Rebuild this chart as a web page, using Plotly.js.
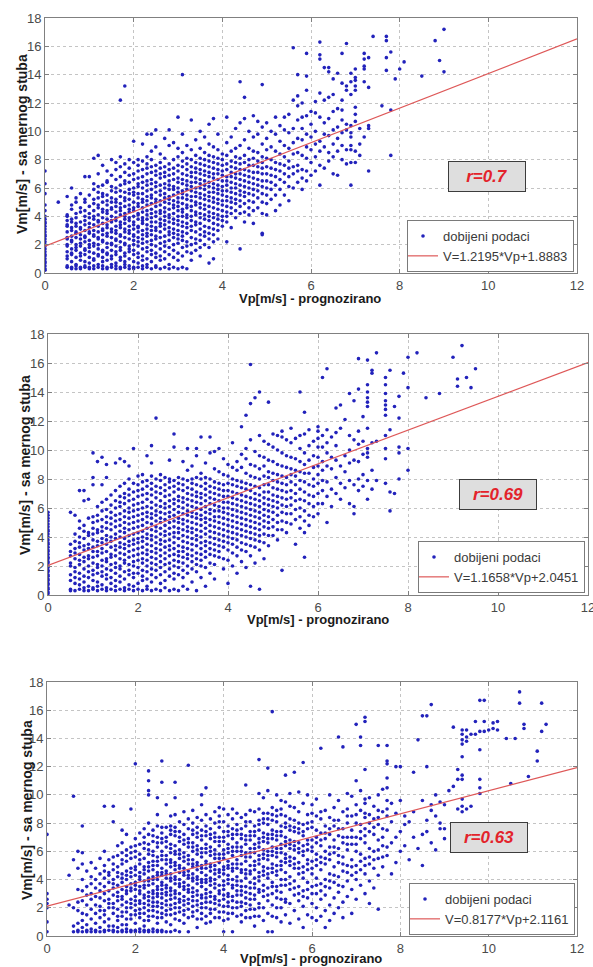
<!DOCTYPE html>
<html>
<head>
<meta charset="utf-8">
<script src="https://cdn.plot.ly/plotly-3.0.1.min.js"></script>
<style>html,body{margin:0;padding:0;background:#fff;}#chart{width:593px;height:967px;}</style>
</head>
<body>
<div id="chart"></div>
<script>
// ---------- DATA ----------
// Each entry: "Vp : Vm values seen in that vertical column of points"
var p1Columns = [
"0: 0.2 0.3 0.5 0.7 0.8 1.0 1.2 1.3 1.5 1.7 1.9 2.0 2.2 2.4 2.6 2.7 2.9 3.1 3.3 3.5 3.6 3.8 4.0 4.4 4.8 5.6 6.3 7.2",
"0.3: 5.0",
"0.5: 0.4 0.5 1.0 1.2 1.5 1.9 2.0 2.4 2.5 2.9 3.3 3.4 3.7 4.0 4.1 5.4",
"0.6: 0.3 0.4 0.8 1.3 1.4 1.7 2.2 2.3 2.6 3.0 3.2 3.6 3.8 4.5 4.8 6.0",
"0.7: 0.3 0.5 0.6 1.1 1.6 1.8 2.0 2.5 2.8 2.9 3.3 3.5 3.9 4.2 5.0 5.3",
"0.8: 0.3 0.4 0.9 1.2 1.4 1.9 2.1 2.4 2.7 3.1 3.2 3.6 4.3 4.6 5.6",
"0.9: 0.4 0.5 0.8 1.3 1.6 1.7 2.2 2.5 2.6 3.0 3.4 3.7 4.0 4.4 5.0 5.2 6.8",
"1.0: 0.3 0.4 0.7 1.1 1.5 1.8 2.0 2.3 2.8 2.9 3.2 3.5 3.9 4.2 4.7 5.5 6.8",
"1.1: 0.3 0.5 0.9 1.0 1.4 1.9 2.1 2.6 2.7 3.0 3.4 3.8 4.0 4.4 4.9 5.2 5.9 6.3 8.1",
"1.2: 0.4 0.6 1.2 1.3 1.7 2.0 2.4 2.5 2.9 3.3 3.6 3.7 4.1 4.6 4.8 5.3 5.7 6.1 7.0 8.3",
"1.3: 0.3 0.5 0.8 1.1 1.5 1.6 2.2 2.3 2.7 3.0 3.1 3.5 3.9 4.3 4.5 5.0 5.4 5.6 6.2 7.6",
"1.4: 0.3 0.4 0.9 1.3 1.4 1.8 2.1 2.6 2.8 3.2 3.4 3.8 4.2 4.4 4.8 5.1 5.5 6.4 6.5 7.2",
"1.5: 0.4 0.6 1.0 1.2 1.6 2.0 2.1 2.5 2.9 3.1 3.6 3.7 4.0 4.5 4.6 5.0 5.3 5.8 6.1 6.9 8.0",
"1.6: 0.3 0.5 0.7 1.3 1.5 1.9 2.3 2.4 2.8 3.0 3.3 3.7 3.9 4.3 4.7 5.0 5.2 5.7 6.0 6.6 7.3 7.8",
"1.7: 0.3 0.4 0.9 1.1 1.6 1.8 2.2 2.6 2.7 3.2 3.4 3.6 4.1 4.4 4.6 4.9 5.4 5.8 6.2 6.8 7.5 8.2 12.2",
"1.8: 0.4 0.6 0.8 1.2 1.4 2.0 2.1 2.5 2.9 3.1 3.5 3.8 4.0 4.2 4.7 5.1 5.3 5.7 6.3 6.5 7.1 7.7 13.2",
"1.9: 0.3 0.5 1.0 1.5 1.7 1.9 2.4 2.8 3.0 3.3 3.7 3.9 4.3 4.5 4.8 5.2 5.6 5.9 6.4 6.9 7.4 8.0",
"2.0: 0.3 0.4 0.8 1.3 1.6 2.0 2.3 2.6 2.7 3.1 3.4 3.6 4.0 4.4 4.6 5.0 5.5 5.7 6.0 6.6 7.0 7.8 9.3",
"2.1: 0.4 0.7 1.1 1.4 1.9 2.2 2.5 2.9 3.2 3.3 3.8 4.1 4.2 4.7 4.9 5.3 5.6 6.1 6.3 6.7 7.2 7.6 8.0",
"2.2: 0.3 0.5 0.9 1.2 1.7 2.1 2.4 2.7 3.0 3.5 3.7 3.9 4.3 4.6 5.0 5.2 5.6 6.0 6.4 6.8 7.3 7.9 9.1",
"2.3: 0.4 0.6 1.0 1.5 1.8 2.2 2.6 2.8 3.1 3.4 3.8 4.1 4.4 4.8 5.1 5.4 5.8 6.2 6.5 7.0 7.4 7.7 8.2 9.8",
"2.4: 0.3 0.8 1.3 1.6 2.0 2.3 2.7 3.0 3.3 3.6 3.9 4.2 4.5 4.9 5.3 5.5 5.9 6.3 6.6 7.1 7.5 8.0 8.6 9.8",
"2.5: 0.4 0.5 1.1 1.4 1.9 2.4 2.6 3.0 3.2 3.6 4.0 4.3 4.7 5.0 5.2 5.7 6.1 6.4 6.9 7.2 7.6 8.9 10.1",
"2.6: 0.3 0.9 1.2 1.7 2.1 2.5 2.9 3.3 3.5 3.8 4.2 4.4 4.8 5.1 5.5 5.8 6.2 6.7 7.0 7.4 7.8 8.4",
"2.7: 0.4 1.0 1.5 1.9 2.2 2.6 3.1 3.4 3.7 4.0 4.3 4.6 5.0 5.3 5.6 6.0 6.3 6.8 7.1 7.5 8.1 9.5",
"2.8: 0.3 0.6 1.3 1.8 2.3 2.7 2.9 3.2 3.6 3.9 4.1 4.5 4.9 5.2 5.4 5.9 6.2 6.5 6.9 7.3 7.7 9.0 10.1",
"2.9: 0.4 1.1 1.6 2.0 2.5 2.8 3.1 3.5 3.8 4.2 4.6 4.8 5.1 5.5 5.9 6.1 6.6 7.0 7.4 8.0 9.2",
"3.0: 0.3 0.9 1.4 2.1 2.4 2.7 3.0 3.4 3.7 4.0 4.4 4.7 5.0 5.3 5.7 6.0 6.4 6.7 7.2 7.6 8.2 8.8 11.0",
"3.1: 0.4 1.2 1.8 2.3 2.6 2.9 3.3 3.6 4.0 4.3 4.5 4.9 5.3 5.6 5.8 6.3 6.6 7.0 7.5 7.9 8.5 9.8 14.0",
"3.2: 0.3 1.5 1.9 2.2 2.8 3.2 3.5 3.9 4.1 4.6 4.8 5.2 5.5 5.9 6.2 6.5 6.9 7.3 7.7 8.1 9.0",
"3.3: 0.9 1.4 2.0 2.5 3.0 3.3 3.7 4.0 4.4 4.7 5.1 5.4 5.8 6.1 6.4 6.8 7.1 7.5 8.0 8.7 10.8",
"3.4: 1.6 2.1 2.4 2.9 3.4 3.6 4.1 4.3 4.8 5.0 5.4 5.7 6.0 6.4 6.7 7.1 7.4 7.8 8.3 9.4",
"3.5: 1.2 1.8 2.3 2.7 3.1 3.5 3.9 4.2 4.6 4.9 5.3 5.6 6.0 6.3 6.6 7.0 7.3 7.7 8.1 8.8 10.0",
"3.6: 2.0 2.6 2.9 3.3 3.8 4.1 4.5 4.8 5.2 5.5 5.9 6.2 6.5 6.9 7.2 7.6 8.0 8.5 9.6",
"3.7: 0.7 1.8 2.4 2.8 3.2 3.7 4.0 4.3 4.7 5.1 5.4 5.7 6.1 6.4 6.8 7.1 7.5 7.9 8.3 9.1 10.5",
"3.8: 1.0 2.2 2.7 3.1 3.5 3.9 4.2 4.6 5.0 5.3 5.7 6.0 6.3 6.7 7.0 7.4 7.8 8.2 8.9 10.9",
"3.9: 2.4 3.0 3.4 3.8 4.1 4.5 4.9 5.2 5.6 5.9 6.2 6.6 7.0 7.3 7.7 8.1 8.7 9.8",
"4.0: 3.3 3.7 4.0 4.4 4.8 5.1 5.5 5.8 6.1 6.5 6.9 7.2 7.6 8.0 8.4",
"4.1: 2.2 3.6 4.0 4.3 4.7 5.1 5.4 5.8 6.2 6.5 6.8 7.3 7.7 8.3 9.2 11.0",
"4.2: 3.2 4.2 4.6 5.0 5.3 5.7 6.0 6.4 6.8 7.1 7.5 7.9 8.6 9.6",
"4.3: 3.9 4.4 4.9 5.2 5.6 6.0 6.3 6.7 7.0 7.4 7.8 8.2 8.8 10.2",
"4.4: 1.7 4.2 4.7 5.1 5.5 5.8 6.2 6.6 7.0 7.3 7.7 8.1 9.0 10.6 13.5",
"4.5: 3.6 4.3 4.9 5.4 5.7 6.1 6.5 6.9 7.3 7.8 8.3 9.4 10.9 12.4",
"4.6: 4.1 4.6 5.1 5.6 6.0 6.4 6.8 7.2 7.6 8.0 8.8 10.0",
"4.7: 3.5 4.4 5.0 5.5 5.9 6.3 6.7 7.1 7.6 8.1 8.6 9.6 11.1",
"4.8: 4.6 5.3 5.8 6.2 6.6 7.1 7.5 7.9 8.5 9.8 10.7",
"4.9: 2.7 2.8 4.2 5.0 5.6 6.1 6.5 7.0 7.4 7.8 8.2 9.1 10.3 13.3",
"5.0: 4.1 4.9 5.5 6.0 6.5 7.0 7.5 8.1 8.7 9.5 10.6",
"5.1: 5.2 5.9 6.4 6.9 7.4 8.0 8.9 10.0",
"5.2: 4.4 5.5 6.2 6.8 7.3 7.8 8.6 9.8 11.0",
"5.3: 4.8 5.9 6.6 7.2 7.7 8.4 9.3 10.4",
"5.4: 5.5 6.4 7.0 7.6 8.2 9.0 10.1 11.0",
"5.5: 5.1 6.1 6.8 7.4 7.9 8.8 9.9 11.2",
"5.6: 6.0 7.0 7.5 8.4 9.2 10.2 12.2 15.9",
"5.7: 6.4 7.2 7.6 8.5 9.5 10.8 11.8 12.5 14.0",
"5.8: 5.9 6.7 7.3 8.3 9.4 10.2 11.0 12.0",
"5.9: 6.5 7.2 8.1 8.9 9.8 11.1 12.9 13.9 15.5",
"6.0: 6.9 7.8 8.7 9.6 10.5 11.4",
"6.1: 7.2 8.2 9.1 10.0 11.3 12.1",
"6.2: 6.2 7.6 8.6 9.3 11.0 12.7 15.1 15.4 16.3",
"6.3: 7.4 8.9 9.8 10.6 12.2 14.5",
"6.4: 7.9 8.5 9.7 10.9 12.4 14.2 14.5",
"6.5: 7.0 8.2 9.1 10.1 11.4 12.6 13.7",
"6.6: 6.9 8.6 9.5 10.3 11.6 14.1",
"6.7: 8.0 9.0 9.9 10.8 11.5 12.2 13.4 15.5",
"6.8: 7.7 8.7 10.1 10.5 12.9 13.2 16.2",
"6.9: 6.2 7.8 8.7 9.0 9.6 9.9 10.4 12.6 13.5 14.1",
"7.0: 7.8 8.6 10.7 11.2 11.7 12.9 13.2 13.6 13.8 14.4",
"7.1: 8.3 9.1 10.2",
"7.2: 9.6 13.5 14.4 14.6 15.1 15.5",
"7.3: 7.2 10.2 10.4 13.1 15.2",
"7.4: 16.7",
"7.6: 11.8",
"7.7: 14.3 15.2 16.4 16.7",
"7.8: 8.3 11.5 15.6",
"7.9: 13.7",
"8.0: 14.4",
"8.1: 14.9",
"8.5: 13.9",
"8.8: 16.4",
"8.9: 15.0",
"9.0: 14.2 17.2"
];

var p2Columns = [
"0: 0.1 0.2 0.4 0.5 0.7 0.8 1.0 1.1 1.3 1.4 1.6 1.7 1.9 2.0 2.2 2.3 2.5 2.6 2.8 3.0 3.1 3.3 3.5 3.6 3.8 4.0 4.2 4.4 4.5 4.7 4.9 5.1 5.3 5.5 5.7",
"0.5: 0.3 0.4 1.0 1.4 2.0 2.2 2.7 3.0 3.5 5.7",
"0.6: 0.3 0.8 1.2 1.6 1.9 2.5 2.9 3.2 3.7 4.2 5.5",
"0.7: 0.4 0.7 1.1 1.5 2.1 2.4 2.8 3.3 3.6 4.0 4.6 5.1 7.2",
"0.8: 0.3 0.5 0.9 1.3 1.8 2.3 2.6 3.1 3.4 3.9 4.4 4.8 6.5 7.2",
"0.9: 0.3 0.6 1.2 1.6 2.0 2.5 2.7 3.2 3.5 4.1 4.3 5.3 6.6",
"1.0: 0.4 0.5 1.0 1.4 1.7 2.2 2.6 3.0 3.3 3.8 4.2 4.6 5.0 5.4 7.6 8.1 9.8",
"1.1: 0.3 0.6 0.9 1.5 1.9 2.1 2.7 3.0 3.4 3.7 4.3 4.5 5.1 5.5 6.1 9.2",
"1.2: 0.4 0.7 1.3 1.6 2.0 2.4 2.9 3.2 3.6 3.9 4.4 4.7 5.2 5.8 6.4 7.6 9.5",
"1.3: 0.3 0.5 1.1 1.4 1.8 2.3 2.5 3.0 3.5 3.8 4.1 4.6 5.0 5.4 5.9 6.6 8.1 9.0",
"1.4: 0.4 0.8 1.2 1.7 2.1 2.6 2.8 3.3 3.7 4.0 4.5 4.9 5.3 5.7 6.2 6.9",
"1.5: 0.3 0.6 1.0 1.5 1.9 2.2 2.7 3.1 3.4 3.9 4.2 4.7 5.1 5.5 6.0 6.5 7.2 9.1",
"1.6: 0.4 0.9 1.3 1.8 2.0 2.5 2.9 3.3 3.6 4.0 4.4 4.8 5.2 5.6 6.1 6.4 6.8 7.5 9.4",
"1.7: 0.3 0.5 1.1 1.6 2.2 2.4 2.8 3.2 3.5 3.9 4.3 4.6 5.0 5.4 5.8 6.3 6.7 7.0 7.7 9.2",
"1.8: 0.4 0.7 1.4 1.7 2.1 2.6 3.0 3.4 3.7 4.1 4.5 4.9 5.3 5.7 6.0 6.5 6.9 7.3 8.0 8.9",
"1.9: 0.3 0.6 1.2 1.5 2.0 2.3 2.7 3.1 3.5 3.8 4.2 4.6 5.0 5.4 5.8 6.2 6.6 7.1 7.7 10.1",
"2.0: 0.4 0.8 1.5 1.9 2.4 2.8 3.2 3.6 3.9 4.3 4.7 5.1 5.5 5.9 6.3 6.8 7.2 7.6 8.2",
"2.1: 0.3 1.0 1.3 1.7 2.2 2.5 2.9 3.3 3.7 4.0 4.4 4.8 5.2 5.6 6.0 6.4 6.9 7.3 7.8 8.3",
"2.2: 0.4 0.6 1.1 1.6 2.0 2.4 2.8 3.1 3.5 3.9 4.2 4.6 5.0 5.4 5.7 6.1 6.6 7.0 7.5 7.9 9.6",
"2.3: 0.3 0.9 1.4 1.8 2.2 2.6 3.0 3.4 3.8 4.1 4.5 4.9 5.3 5.6 6.0 6.4 6.9 7.3 7.7 8.2 9.1 10.3",
"2.4: 0.4 1.2 1.7 2.1 2.5 2.9 3.2 3.6 4.0 4.4 4.7 5.1 5.5 5.8 6.2 6.7 7.1 7.5 8.0 12.2",
"2.5: 0.3 0.8 1.4 1.9 2.3 2.7 3.1 3.5 3.8 4.2 4.6 5.0 5.3 5.7 6.1 6.5 7.0 7.4 7.9 8.3",
"2.6: 0.5 1.0 1.6 2.1 2.5 2.9 3.3 3.7 4.1 4.4 4.8 5.2 5.6 6.0 6.3 6.8 7.2 7.6 8.1",
"2.7: 0.3 1.3 1.8 2.2 2.7 3.1 3.4 3.8 4.2 4.6 5.0 5.4 5.7 6.1 6.5 6.9 7.4 7.8 8.0 9.3",
"2.8: 0.4 1.1 1.5 2.0 2.4 2.8 3.2 3.6 4.0 4.3 4.7 5.1 5.5 5.9 6.3 6.6 7.1 7.5 7.9 10.2 11.1",
"2.9: 0.3 1.4 1.9 2.3 2.7 3.0 3.4 3.9 4.3 4.6 5.0 5.3 5.7 6.1 6.5 6.8 7.3 7.7 8.1",
"3.0: 0.6 1.2 1.7 2.2 2.6 3.0 3.3 3.7 4.1 4.5 4.9 5.2 5.6 6.0 6.4 6.7 7.2 7.6 8.0 9.2",
"3.1: 0.4 1.5 2.0 2.5 2.8 3.2 3.6 4.0 4.4 4.7 5.1 5.5 5.8 6.2 6.6 7.0 7.4 7.9 8.6 10.1",
"3.2: 0.9 1.8 2.3 2.7 3.1 3.5 3.9 4.3 4.6 5.0 5.4 5.7 6.1 6.5 6.9 7.3 7.7 8.0 8.9",
"3.3: 0.3 1.6 2.1 2.5 2.9 3.4 3.8 4.1 4.5 4.9 5.3 5.6 6.0 6.4 6.8 7.1 7.6 8.1 9.6 10.1",
"3.4: 1.2 2.0 2.4 2.8 3.2 3.6 4.0 4.4 4.8 5.2 5.5 5.9 6.3 6.7 7.0 7.5 8.0 8.4 10.9",
"3.5: 0.6 1.9 2.6 3.0 3.4 3.7 4.2 4.6 5.0 5.3 5.7 6.1 6.5 6.9 7.3 7.7 8.1 9.1",
"3.6: 1.5 2.2 2.8 3.2 3.6 4.0 4.4 4.8 5.2 5.6 5.9 6.3 6.7 7.1 7.5 8.0 9.8 10.9",
"3.7: 1.1 2.1 2.7 3.1 3.5 3.9 4.3 4.7 5.1 5.4 5.8 6.2 6.6 7.0 7.4 7.8 8.7 9.9",
"3.8: 2.6 3.0 3.4 3.8 4.2 4.6 5.0 5.4 5.8 6.1 6.5 6.9 7.3 7.7 8.5 10.1",
"3.9: 1.8 2.5 3.3 3.7 4.1 4.5 4.9 5.3 5.7 6.0 6.4 6.8 7.2 7.6 8.3 9.4",
"4.0: 0.8 2.4 3.1 3.6 4.0 4.4 4.8 5.2 5.6 6.0 6.4 6.8 7.2 7.7 8.2 9.0",
"4.1: 2.0 2.9 3.5 3.9 4.3 4.7 5.1 5.5 5.9 6.3 6.7 7.1 7.6 8.0 8.8 10.5",
"4.2: 1.5 2.7 3.3 3.8 4.2 4.6 5.0 5.4 5.8 6.2 6.6 7.0 7.5 7.9 8.6 9.2",
"4.3: 2.3 3.1 3.6 4.1 4.5 4.9 5.3 5.7 6.1 6.5 6.9 7.4 7.8 8.8 9.7 11.6",
"4.4: 1.9 3.0 3.5 4.0 4.4 4.8 5.2 5.6 6.0 6.4 6.8 7.3 7.7 8.4 9.4 10.1 12.4",
"4.5: 0.6 2.7 3.4 3.9 4.3 4.7 5.1 5.5 5.9 6.3 6.7 7.2 7.6 8.2 9.0 10.7 13.2 15.9",
"4.6: 2.2 3.3 3.8 4.2 4.6 5.0 5.4 5.8 6.2 6.6 7.0 7.5 8.1 8.9 9.9 13.6",
"4.7: 0.4 3.1 3.7 4.1 4.5 4.9 5.3 5.7 6.1 6.5 6.9 7.4 8.0 8.7 9.6 11.0 14.0",
"4.8: 2.5 3.6 4.2 4.7 5.1 5.5 5.9 6.3 6.7 7.1 7.6 8.2 8.9 9.5 10.6",
"4.9: 3.4 4.1 4.6 5.0 5.4 5.8 6.2 6.6 7.1 7.6 8.1 8.5 9.3 10.4 13.3",
"5.0: 4.1 4.7 5.2 5.7 6.1 6.5 6.9 7.4 7.9 8.4 9.2 10.2 11.1",
"5.1: 3.8 4.5 5.0 5.5 6.0 6.4 6.8 7.3 7.8 8.3 9.0 10.0 11.0",
"5.2: 1.7 4.5 5.1 5.7 6.2 6.7 7.2 7.7 8.2 8.9 9.8 10.9 11.3",
"5.3: 4.3 5.0 5.6 6.1 6.6 7.1 7.6 8.1 8.8 9.6 10.7",
"5.4: 4.9 5.6 6.2 6.7 7.2 7.8 8.3 8.7 9.5 10.5 11.5",
"5.5: 3.5 5.2 5.9 6.5 7.0 7.6 8.2 8.6 9.4 10.8",
"5.6: 4.6 5.4 6.0 6.6 7.3 7.9 8.5 9.2 10.1 11.0 14.0",
"5.7: 2.6 4.3 5.1 5.8 6.5 7.1 7.8 8.4 9.0 9.8 11.1 12.6",
"5.8: 4.8 5.5 6.3 6.9 7.6 8.4 9.3 10.3 11.4",
"5.9: 5.4 6.1 6.8 7.5 8.0 8.8 9.6 10.6",
"6.0: 5.6 6.3 7.0 7.7 8.3 8.9 9.5 10.2 10.8 11.3 11.6",
"6.1: 6.3 7.2 7.9 8.6 9.2 10.2 11.0 15.0",
"6.2: 5.0 6.8 7.8 8.9 9.8 10.5 11.4 15.6",
"6.3: 6.1 7.3 8.7 9.5 10.9",
"6.4: 7.0 8.1 9.3 10.3 11.2 12.9",
"6.5: 6.6 7.7 8.9 11.5 13.1",
"6.6: 7.4 8.5 9.6 12.1",
"6.7: 6.3 7.9 9.1 10.0 11.0 13.9",
"6.8: 5.6 6.1 7.6 9.3 10.7 13.4",
"6.9: 7.2 8.0 9.2 10.4 11.3 14.2 16.3",
"7.0: 7.5 8.3 9.7 10.6 12.3",
"7.1: 6.6 7.9 9.5 9.8 10.1 11.5 13.0 13.3 13.6 14.0 14.5 16.2",
"7.2: 7.3 8.6 10.5 15.3 15.5",
"7.3: 7.9 10.6 16.7",
"7.5: 7.7 9.4 10.1 11.0 12.4 12.8 13.1 13.4 13.9 14.5 15.0",
"7.6: 5.8 7.1 11.4 15.5",
"7.7: 7.0 13.0",
"7.8: 8.0 9.8 10.2 12.2 13.7",
"7.9: 15.3",
"8.0: 8.6 10.1 14.3 16.4",
"8.2: 16.7",
"8.4: 13.6",
"8.7: 13.9",
"9.0: 16.4",
"9.1: 14.4 14.9",
"9.2: 17.2",
"9.3: 15.0",
"9.4: 14.3",
"9.5: 15.6"
];

var p3Columns = [
"0: 0.3 1.0 2.0 2.3 2.6 3.0 7.2",
"0.5: 2.2 4.3",
"0.6: 0.3 0.7 2.0 5.4 9.9",
"0.7: 0.3 0.4 0.9 1.8 2.4 3.3 4.8 6.0",
"0.8: 0.3 0.6 1.1 1.6 2.5 3.2 4.0 5.1 5.9 7.8",
"0.9: 0.3 0.4 0.8 1.5 2.2 2.9 3.5 4.6",
"1.0: 0.3 0.5 1.2 1.9 2.6 3.0 3.7 4.2 5.2",
"1.1: 0.3 0.4 0.9 1.6 2.2 2.8 3.4 4.0 4.8",
"1.2: 0.3 0.6 1.3 1.8 2.1 2.7 3.2 3.7 4.4 5.5",
"1.3: 0.3 0.4 1.0 1.5 1.8 2.5 3.0 3.5 4.1 4.6 5.0 6.0 9.2",
"1.4: 0.4 0.7 1.2 2.0 2.3 2.6 3.2 3.8 4.3 4.5 5.4",
"1.5: 0.3 0.4 0.7 1.6 2.0 2.3 2.9 3.4 3.7 4.0 4.7 5.1 5.6 8.1 9.2",
"1.6: 0.3 0.6 1.1 1.4 1.9 2.5 2.8 3.1 3.6 4.2 4.5 4.9 5.7 6.4",
"1.7: 0.3 0.4 0.8 1.4 1.7 2.2 2.6 2.8 3.3 3.8 4.1 4.4 5.1 5.4 5.9 6.6 7.5",
"1.8: 0.3 0.5 0.8 1.2 1.7 2.0 2.4 3.0 3.2 3.5 4.0 4.3 4.6 5.3 5.7 6.1 7.2",
"1.9: 0.3 0.4 1.2 1.5 2.0 2.3 2.6 3.2 3.4 3.7 4.2 4.5 4.8 5.5 5.9 6.3 9.0",
"2.0: 0.3 0.4 0.9 1.5 1.8 2.2 2.5 2.8 3.3 3.6 3.8 4.3 4.7 4.9 5.6 6.0 6.4 6.9 12.2",
"2.1: 0.3 0.5 1.3 1.6 1.9 2.3 2.5 3.0 3.2 3.5 4.0 4.2 4.5 5.1 5.4 5.8 6.5 7.3",
"2.2: 0.3 0.4 0.7 1.1 1.6 2.0 2.3 2.7 2.9 3.4 3.6 3.9 4.4 4.7 4.9 5.5 6.2 6.6 7.0 7.6",
"2.3: 0.3 0.4 1.1 1.4 1.8 2.2 2.5 2.8 3.1 3.6 3.9 4.1 4.6 4.9 5.2 5.8 6.1 6.5 7.2 8.0 10.0 10.3 11.0 11.7",
"2.4: 0.3 0.5 1.4 1.8 2.1 2.4 2.7 3.0 3.2 3.7 4.0 4.2 4.7 5.0 5.3 5.7 6.0 6.7 7.1 7.5",
"2.5: 0.3 0.4 0.9 1.3 1.7 2.1 2.4 2.8 3.0 3.3 3.5 4.0 4.3 4.5 5.0 5.3 5.6 6.3 6.6 7.0 7.8 8.6 9.8",
"2.6: 0.3 0.4 1.3 1.6 2.0 2.3 2.7 3.0 3.3 3.6 3.8 4.3 4.5 4.8 5.4 5.7 6.0 6.6 6.9 7.3 7.7 10.9 12.4",
"2.7: 0.3 1.0 1.5 1.8 2.2 2.5 2.9 3.1 3.4 3.6 4.1 4.4 4.6 5.1 5.4 5.7 6.3 6.7 7.0 7.7 9.3",
"2.8: 0.3 0.8 1.5 1.9 2.2 2.6 2.9 3.2 3.4 3.9 4.1 4.4 4.9 5.2 5.4 5.9 6.2 6.5 7.2 7.5 7.8 8.5",
"2.9: 0.4 1.2 1.6 2.0 2.3 2.7 3.0 3.2 3.7 4.0 4.2 4.7 5.0 5.2 5.8 6.0 6.4 7.1 7.4 7.7 8.6 9.8 10.9",
"3.0: 0.3 1.1 1.7 2.0 2.4 2.6 3.0 3.5 3.7 4.0 4.5 4.8 5.0 5.5 5.8 6.1 6.7 7.0 7.4 8.1",
"3.1: 0.9 1.5 1.8 2.2 2.5 2.8 3.3 3.5 3.8 4.3 4.5 4.8 5.3 5.6 5.9 6.5 6.8 7.2 7.9 8.8",
"3.2: 0.3 1.3 1.9 2.3 2.6 3.1 3.3 3.6 4.1 4.3 4.6 5.1 5.4 5.7 6.3 6.6 6.9 7.6 8.3 12.1",
"3.3: 1.4 1.7 2.1 2.5 2.8 3.1 3.4 3.9 4.1 4.4 4.9 5.1 5.4 6.0 6.3 6.6 7.2 7.5 8.0 8.9",
"3.4: 0.6 1.2 1.8 2.2 2.5 2.9 3.2 3.7 4.0 4.2 4.7 5.0 5.2 5.8 6.1 6.4 7.0 7.3 7.7 8.4",
"3.5: 1.2 1.6 2.0 2.3 2.7 2.9 3.5 3.8 4.0 4.5 4.8 5.0 5.6 5.9 6.2 6.8 7.1 7.5 8.2 9.3 10.0",
"3.6: 0.9 1.4 2.0 2.4 2.7 3.0 3.3 3.8 4.0 4.3 4.8 5.1 5.3 5.9 6.2 6.5 7.1 7.4 7.8 8.6 10.5",
"3.7: 1.0 1.6 1.9 2.4 2.8 3.1 3.6 3.9 4.1 4.6 4.9 5.1 5.7 6.0 6.3 6.9 7.2 7.6 8.3",
"3.8: 1.3 1.9 2.3 2.6 2.8 3.4 3.7 4.0 4.4 4.7 5.0 5.5 5.8 6.1 6.7 7.0 7.3 8.0 8.8",
"3.9: 1.3 1.7 2.2 2.5 3.0 3.2 3.6 4.2 4.5 4.7 5.2 5.5 5.8 6.4 6.7 7.0 7.7 8.1 8.5 9.1",
"4.0: 0.3 1.1 1.7 2.1 2.6 2.9 3.3 3.6 3.9 4.4 4.7 4.9 5.5 5.8 6.1 6.7 7.0 7.4 8.1 9.0",
"4.1: 1.2 1.6 2.1 2.4 2.8 3.0 3.7 4.0 4.3 4.8 5.0 5.3 5.9 6.2 6.5 7.1 7.4 7.8 8.6",
"4.2: 0.3 1.6 2.0 2.5 2.8 3.4 3.6 4.0 4.6 4.8 5.1 5.7 6.0 6.3 6.9 7.2 7.6 8.3 9.0",
"4.3: 1.4 2.0 2.4 2.9 3.2 3.6 3.9 4.2 4.8 5.1 5.4 6.0 6.3 6.6 7.2 7.5 7.9 8.7",
"4.4: 1.0 1.5 2.1 2.4 2.9 3.2 3.5 3.9 4.5 4.7 5.1 5.7 6.0 6.3 6.9 7.2 7.6 8.4",
"4.5: 1.3 1.8 2.3 2.7 3.1 3.5 4.1 4.4 4.7 5.3 5.6 5.9 6.5 6.8 7.1 7.8 8.1 8.6 10.7",
"4.6: 1.3 1.9 2.2 2.6 3.0 3.4 3.8 4.4 4.6 5.0 5.6 5.9 6.2 6.8 7.1 7.4 8.1 8.9",
"4.7: 0.7 1.4 1.9 2.6 2.9 3.4 3.7 4.1 4.7 5.0 5.3 5.9 6.2 6.5 7.1 7.4 7.8 8.8",
"4.8: 1.4 2.0 2.3 3.1 3.3 3.9 4.2 4.5 5.1 5.4 5.7 6.3 6.6 6.9 7.5 7.9 8.2 9.0 10.1 12.5",
"4.9: 1.1 2.0 2.8 3.2 3.6 4.3 4.6 4.9 5.5 5.8 6.1 6.7 7.0 7.3 8.0 8.3 8.7 9.8",
"5.0: 0.3 1.6 2.5 2.9 3.4 4.1 4.4 4.8 5.4 5.7 6.0 6.6 6.9 7.2 7.9 8.3 8.7 10.3 11.9",
"5.1: 0.3 1.4 2.2 3.0 3.5 3.8 4.5 4.8 5.1 5.7 6.0 6.3 6.9 7.2 7.5 8.2 8.6 9.1 15.9",
"5.2: 1.3 2.0 2.7 3.2 3.5 4.3 4.6 5.0 5.6 5.9 6.2 6.8 7.1 7.4 8.1 8.5 8.9 10.0",
"5.3: 1.0 2.0 2.6 3.1 3.6 4.0 4.7 5.0 5.3 5.9 6.2 6.5 7.1 7.4 7.8 8.6 9.0 9.6",
"5.4: 1.5 2.4 2.6 3.6 4.0 4.5 5.2 5.5 5.8 6.4 6.7 7.0 7.7 8.0 8.5 9.5 11.4",
"5.5: 0.9 2.3 3.3 3.7 4.2 5.0 5.3 5.6 6.2 6.5 6.8 7.5 7.8 8.3 9.2 10.1",
"5.6: 1.8 2.9 3.4 3.9 4.8 5.1 5.5 6.1 6.4 6.7 7.4 7.7 8.2 9.1 11.6",
"5.7: 1.2 2.5 3.0 3.5 4.4 4.8 5.2 5.9 6.2 6.6 7.3 7.6 8.0 8.8 10.2",
"5.8: 0.6 2.1 2.8 3.2 4.1 4.5 4.9 5.7 6.0 6.4 7.1 7.4 7.9 9.4 12.3",
"5.9: 1.5 2.7 3.3 3.8 4.7 5.1 5.4 6.1 6.5 6.8 7.6 8.0 8.6 10.0",
"6.0: 1.3 2.3 3.0 3.5 4.4 4.8 5.3 6.0 6.3 6.8 7.7 8.1 8.7 9.3",
"6.1: 1.1 2.0 3.0 3.6 4.1 5.0 5.4 5.8 6.6 7.0 7.5 8.5 9.7",
"6.2: 1.4 2.6 3.2 3.7 4.7 5.2 5.6 6.4 6.8 7.3 8.3 8.8 13.3",
"6.3: 0.6 1.8 2.9 3.5 4.0 5.1 5.5 6.0 6.9 7.3 7.8 8.9",
"6.4: 1.1 2.2 3.4 3.9 4.4 5.4 5.8 6.3 7.2 7.6 8.4 10.0",
"6.5: 1.6 2.7 3.8 4.3 4.9 5.9 6.3 6.8 7.8 8.2 9.1",
"6.6: 2.0 3.1 3.6 4.2 5.2 5.7 6.2 7.1 7.6 8.2 9.6 14.1",
"6.7: 1.3 2.4 3.5 4.6 5.1 5.6 6.6 7.0 7.6 8.8 13.4",
"6.8: 2.8 3.9 4.5 5.0 6.1 6.5 7.0 8.0 8.5 9.0 10.1",
"6.9: 1.6 3.3 4.3 4.9 5.4 6.5 7.0 7.5 8.5 9.9",
"7.0: 2.6 4.0 4.5 5.0 6.0 6.5 7.0 8.0 8.6 9.3 11.0 15.0",
"7.1: 3.6 4.7 5.3 5.8 6.9 7.4 7.9 8.9 10.3 13.5 14.1",
"7.2: 3.0 4.4 5.0 5.5 6.6 7.1 7.6 8.4 8.7 9.4 9.7 11.8 15.2 15.5",
"7.3: 2.3 3.9 5.1 5.6 6.2 7.4 8.0 8.6 9.8",
"7.4: 3.4 4.8 5.4 6.0 7.2 7.7 8.3 9.2",
"7.5: 1.9 4.3 5.5 6.1 6.8 7.9 8.4 8.9 10.0 13.5",
"7.6: 4.9 5.6 6.4 7.0 7.6 8.8 10.4",
"7.7: 5.7 6.3 7.5 8.5 9.0 9.6 10.5 11.2 12.2 12.4 13.5",
"7.8: 4.4 6.6 8.1 9.4",
"7.9: 5.2 7.0 8.7 12.0",
"8.0: 6.0 7.4 9.6 12.0",
"8.1: 6.4 7.9 8.5",
"8.2: 5.4 8.1",
"8.3: 7.0 8.8 11.6",
"8.4: 6.2 13.9",
"8.5: 5.0 7.2 9.6 15.6",
"8.6: 7.4 8.2 12.0 15.6",
"8.7: 6.6 8.9 9.3 16.4",
"8.8: 6.1 8.5 10.0",
"8.9: 7.6 8.0 9.5",
"9.0: 3.4 6.9 7.6 9.3",
"9.1: 10.3",
"9.2: 10.6 14.8",
"9.3: 9.0 11.1 11.8",
"9.4: 8.8 9.2 9.7 11.1 11.4 12.7 13.6 13.9 14.3 14.6",
"9.5: 9.0 13.8 14.1 14.6",
"9.6: 9.2 14.3",
"9.7: 14.3 15.2",
"9.8: 10.1 10.5 11.1 13.2 14.5 16.7",
"9.9: 14.5 15.2 16.7",
"10.0: 14.6",
"10.1: 14.7 15.1",
"10.2: 14.6 15.2",
"10.4: 14.0",
"10.5: 10.8",
"10.6: 14.0",
"10.7: 16.5 17.3",
"10.8: 14.7 15.0",
"10.9: 11.3",
"11.1: 12.4 13.1",
"11.2: 14.5 16.5",
"11.3: 15.0"
];

// Regression lines (end points at Vp = 0 and Vp = 12) and text labels
var lineX = [0, 12];
var p1LineY = [1.8883, 16.5223];
var p2LineY = [2.0451, 16.0347];
var p3LineY = [2.1161, 11.9285];
var fitLabels = ["V=1.2195*Vp+1.8883", "V=1.1658*Vp+2.0451", "V=0.8177*Vp+2.1161"];
var rLabels = ["r=0.7", "r=0.69", "r=0.63"];
var pointsLabel = "dobijeni podaci";
var xTitle = "Vp[m/s] - prognozirano";
var yTitle = "Vm[m/s] - sa mernog stuba";

// ---------- BUILD ----------
function flatten(cols) {
  var xs = [], ys = [];
  cols.forEach(function (c) {
    var parts = c.split(":");
    var x = parseFloat(parts[0]);
    parts[1].trim().split(/\s+/).forEach(function (v) { xs.push(x); ys.push(parseFloat(v)); });
  });
  return {x: xs, y: ys};
}
var W = 593, H = 967;
var FONT = 'Liberation Sans, Arial, sans-serif';
var panels = [
  {d: flatten(p1Columns), line: p1LineY, px: [45, 577], py: [18, 273],
   leg: [574, 272], rbox: [487, 176], yt: [22, 144], xt: [310, 299]},
  {d: flatten(p2Columns), line: p2LineY, px: [48, 588], py: [334, 595],
   leg: [585, 593], rbox: [498, 494], yt: [25, 465], xt: [318, 619]},
  {d: flatten(p3Columns), line: p3LineY, px: [47, 577], py: [682, 936],
   leg: [575, 935], rbox: [489, 837], yt: [27, 810], xt: [311, 958]}
];

var traces = [], annotations = [];
var layout = {
  width: W, height: H, margin: {l: 0, r: 0, t: 0, b: 0},
  paper_bgcolor: '#ffffff', plot_bgcolor: '#ffffff',
  font: {family: FONT, color: '#404040'},
  showlegend: true
};
var tickFont = {family: FONT, size: 13, color: '#4a4a4a'};

panels.forEach(function (p, i) {
  var n = i + 1, sfx = n === 1 ? '' : String(n);
  var legName = n === 1 ? 'legend' : 'legend' + n;
  traces.push({
    type: 'scatter', mode: 'markers', x: p.d.x, y: p.d.y,
    xaxis: 'x' + sfx, yaxis: 'y' + sfx, name: pointsLabel, legend: legName,
    marker: {size: 3.6, color: '#2222bb'}, hoverinfo: 'skip'
  });
  traces.push({
    type: 'scatter', mode: 'lines', x: lineX, y: p.line,
    xaxis: 'x' + sfx, yaxis: 'y' + sfx, name: fitLabels[i], legend: legName,
    line: {color: 'rgb(222,88,88)', width: 1.2}, hoverinfo: 'skip'
  });
  var axCommon = {
    showline: true, linecolor: '#808080', linewidth: 1, mirror: 'ticks',
    ticks: 'inside', ticklen: 4, tickcolor: '#808080',
    showgrid: true, gridcolor: '#c4c4c4', griddash: 'dot', gridwidth: 1,
    zeroline: false, tickfont: tickFont, fixedrange: true
  };
  layout['xaxis' + sfx] = Object.assign({}, axCommon, {
    domain: [p.px[0] / W, p.px[1] / W], range: [0, 12], dtick: 2, tick0: 0,
    anchor: 'y' + sfx, ticklabeloverflow: 'allow'
  });
  layout['yaxis' + sfx] = Object.assign({}, axCommon, {
    domain: [1 - p.py[1] / H, 1 - p.py[0] / H], range: [0, 18], dtick: 2, tick0: 0,
    anchor: 'x' + sfx
  });
  layout[legName] = {
    x: p.leg[0] / W, y: 1 - p.leg[1] / H, xanchor: 'right', yanchor: 'bottom',
    bgcolor: '#ffffff', bordercolor: '#7a7a7a', borderwidth: 1,
    font: {family: FONT, size: 13, color: '#3a3a3a'},
    tracegroupgap: 0, itemwidth: 30, indentation: -5
  };
  annotations.push({
    xref: 'paper', yref: 'paper', x: p.rbox[0] / W, y: 1 - p.rbox[1] / H,
    xanchor: 'center', yanchor: 'middle', showarrow: false,
    text: '<b><i>' + rLabels[i] + '</i></b>',
    font: {family: FONT, size: 17, color: '#e3232b'},
    bgcolor: '#dedede', bordercolor: '#3c3c3c', borderwidth: 1, borderpad: 1,
    width: 74, height: 27
  });
  annotations.push({
    xref: 'paper', yref: 'paper', x: p.yt[0] / W, y: 1 - p.yt[1] / H,
    xanchor: 'center', yanchor: 'middle', showarrow: false, textangle: -90,
    text: '<b>' + yTitle + '</b>',
    font: {family: FONT, size: 14, color: '#1a1a1a'}
  });
  annotations.push({
    xref: 'paper', yref: 'paper', x: p.xt[0] / W, y: 1 - p.xt[1] / H,
    xanchor: 'center', yanchor: 'middle', showarrow: false,
    text: '<b>' + xTitle + '</b>',
    font: {family: FONT, size: 13, color: '#1a1a1a'}
  });
});
layout.annotations = annotations;

Plotly.newPlot('chart', traces, layout, {staticPlot: true, displayModeBar: false});
</script>
</body>
</html>
